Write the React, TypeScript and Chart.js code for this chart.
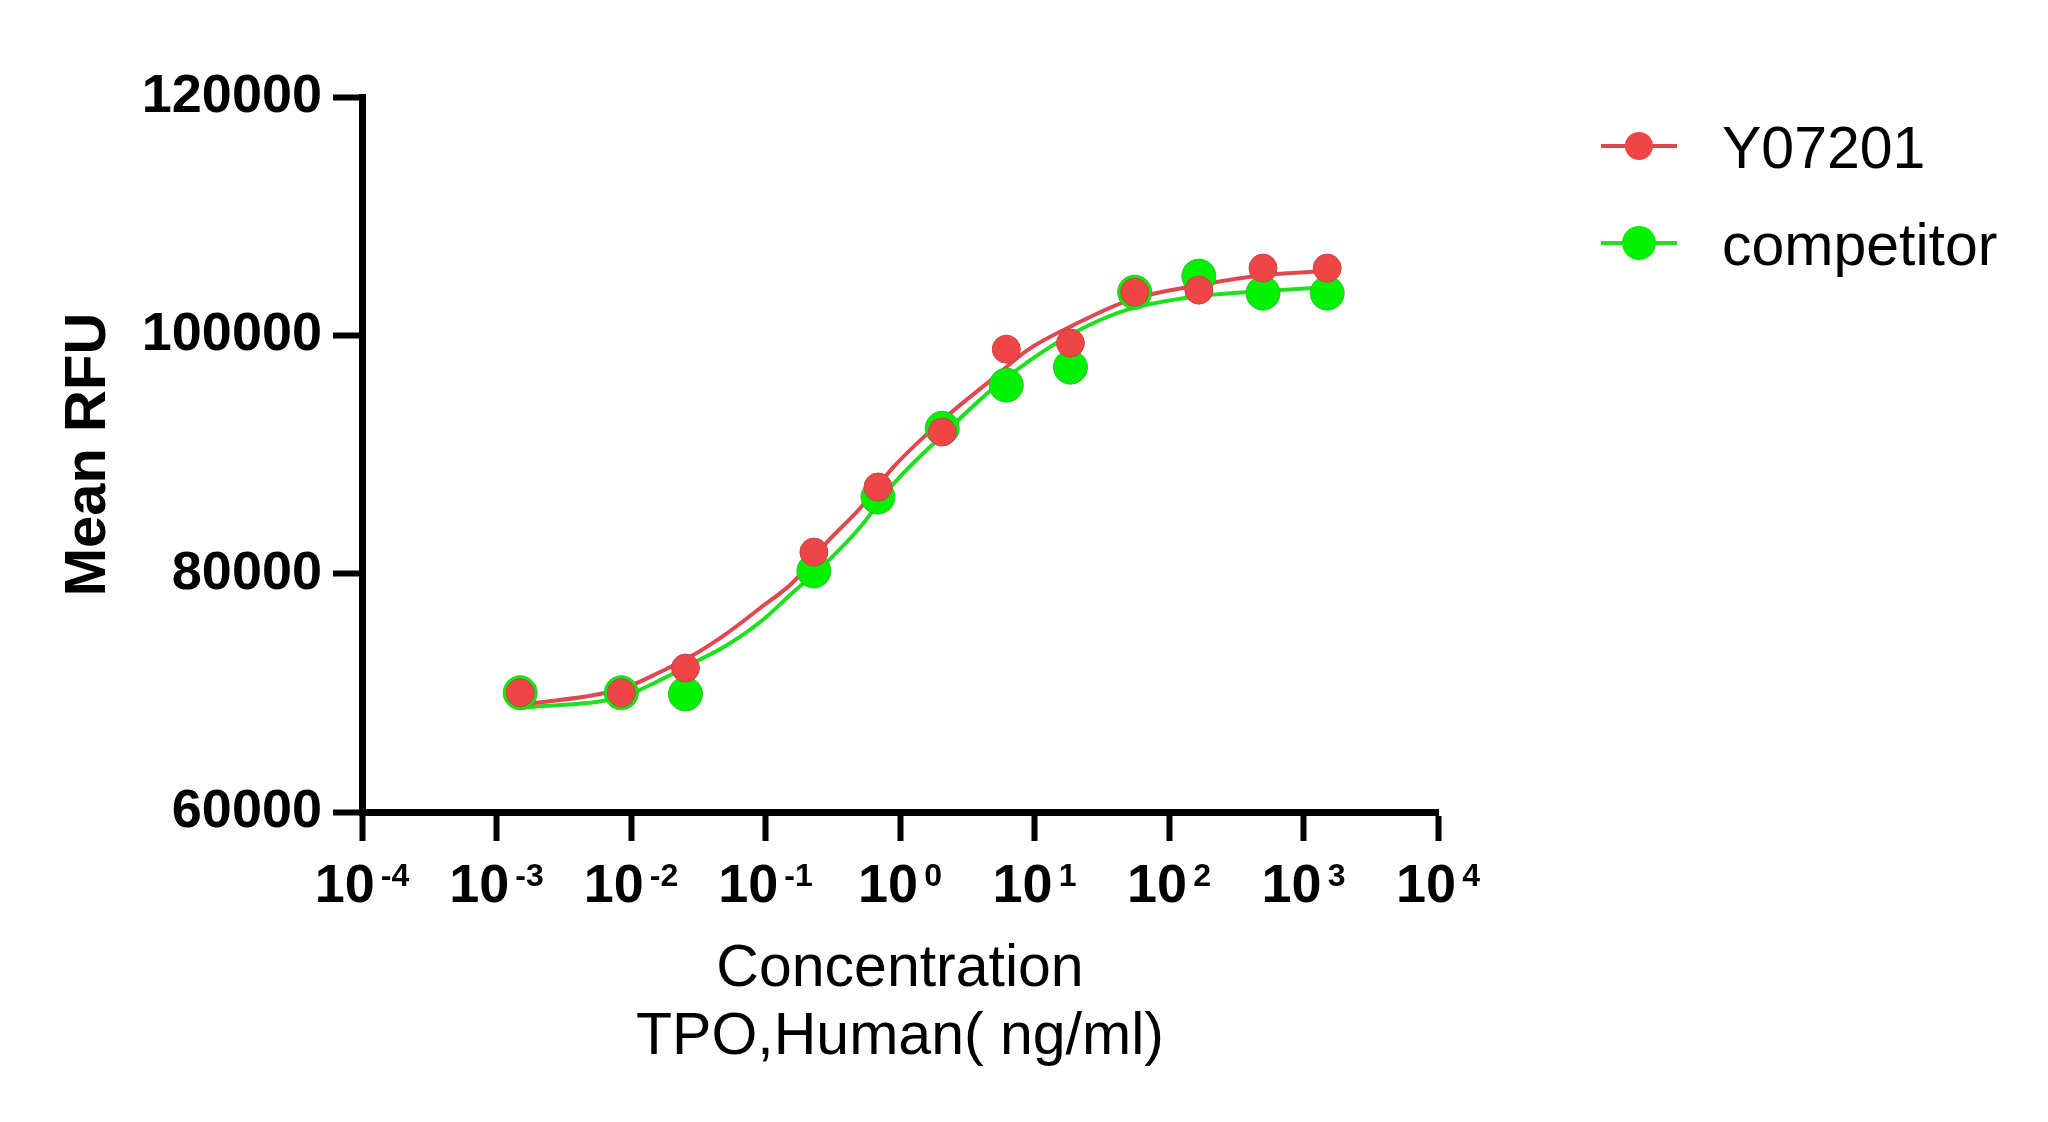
import Chart from "chart.js/auto";
import { useEffect, useRef } from "react";

// concentrations (ng/ml)
const concentrations = [0.0015, 0.00847, 0.0254, 0.229, 0.686, 2.06, 6.17, 18.5, 55.6, 166.7, 500, 1500];
const y07201 = [70000, 70000, 72080, 81810, 87270, 91880, 98840, 99350, 103620, 103790, 105640, 105640];
const competitor = [70000, 70000, 69900, 80220, 86430, 92200, 95820, 97330, 103620, 104970, 103540, 103540];

// fitted curves
const curveX = [0.0015, 0.00845, 0.0165, 0.029, 0.052, 0.0914, 0.161, 0.287, 0.507, 0.893, 2.07, 4.95, 8.87, 19.5, 49.2, 166, 497, 1489];
const y07201Curve = [68980, 70320, 71750, 73170, 75020, 77120, 79300, 82650, 85510, 88940, 92890, 96410, 98760, 100860, 102900, 104210, 105050, 105390];
const competitorCurve = [68730, 69650, 71070, 72500, 74010, 75940, 78460, 80980, 83910, 87520, 91630, 95570, 97750, 100190, 102150, 103290, 103710, 104040];

const decades = [1e-4, 1e-3, 1e-2, 1e-1, 1, 10, 100, 1000, 10000];
const seriesNames = ["Y07201", "competitor"];

const FONT = '"Liberation Sans", Arial, sans-serif';
const RED = "#F04545";
const RED_LINE = "#E0474F";
const GREEN = "#00F200";
const GREEN_LINE = "#1EE01E";

const toPoints = (xs: number[], ys: number[]) => xs.map((x, i) => ({ x, y: ys[i] }));

// x tick labels as 10 with a raised exponent
const xLabels = {
  id: "xLabels",
  afterDraw(chart: any) {
    const ctx = chart.ctx;
    const xs = chart.scales.x;
    ctx.save();
    ctx.fillStyle = "#000";
    ctx.textBaseline = "alphabetic";
    ctx.textAlign = "left";
    for (const t of xs.ticks) {
      const px = xs.getPixelForValue(t.value);
      const exp = String(Math.round(Math.log10(t.value)));
      ctx.font = `bold 54px ${FONT}`;
      const w1 = ctx.measureText("10").width;
      ctx.font = `bold 32px ${FONT}`;
      const w2 = ctx.measureText(exp).width;
      const gap = 6;
      const start = px - (w1 + gap + w2) / 2;
      ctx.font = `bold 54px ${FONT}`;
      ctx.fillText("10", start, 902);
      ctx.font = `bold 32px ${FONT}`;
      ctx.fillText(exp, start + w1 + gap, 886);
    }
    ctx.restore();
  },
};

const legendBox = {
  id: "legendBox",
  afterDraw(chart: any) {
    const ctx = chart.ctx;
    ctx.save();
    seriesNames.forEach((name, i) => {
      const pts = chart.data.datasets[i];
      const line = chart.data.datasets[i + 2];
      const y = 146 + i * 97;
      ctx.strokeStyle = line.borderColor;
      ctx.lineWidth = 4;
      ctx.beginPath();
      ctx.moveTo(1601, y);
      ctx.lineTo(1677, y);
      ctx.stroke();
      ctx.fillStyle = pts.pointBackgroundColor;
      ctx.beginPath();
      ctx.arc(1639, y, pts.pointRadius, 0, Math.PI * 2);
      ctx.fill();
      ctx.fillStyle = "#000";
      ctx.font = `59px ${FONT}`;
      ctx.textBaseline = "alphabetic";
      ctx.fillText(name, 1722, y + 22);
    });
    ctx.restore();
  },
};

export default function App() {
  const ref = useRef<HTMLCanvasElement>(null);

  useEffect(() => {
    document.body.style.margin = "0";
    document.body.style.overflow = "hidden";
    if (!ref.current) return;
    const chart = new Chart(ref.current, {
      type: "scatter",
      data: {
        datasets: [
          {
            label: seriesNames[0],
            data: toPoints(concentrations, y07201),
            showLine: false,
            pointRadius: 14,
            pointBackgroundColor: RED,
            pointBorderColor: "#C04848",
            pointBorderWidth: 1,
            order: 0,
          },
          {
            label: seriesNames[1],
            data: toPoints(concentrations, competitor),
            showLine: false,
            pointRadius: 17,
            pointBackgroundColor: GREEN,
            pointBorderColor: "#3CB83C",
            pointBorderWidth: 1,
            order: 1,
          },
          {
            label: seriesNames[0] + " fit",
            data: toPoints(curveX, y07201Curve),
            showLine: true,
            pointRadius: 0,
            borderColor: RED_LINE,
            borderWidth: 4,
            cubicInterpolationMode: "monotone",
            order: 2,
          },
          {
            label: seriesNames[1] + " fit",
            data: toPoints(curveX, competitorCurve),
            showLine: true,
            pointRadius: 0,
            borderColor: GREEN_LINE,
            borderWidth: 4,
            cubicInterpolationMode: "monotone",
            order: 3,
          },
        ],
      },
      options: {
        responsive: false,
        animation: false,
        devicePixelRatio: 1,
        events: [],
        layout: { padding: { left: 0, top: 97, right: 610, bottom: 0 } },
        plugins: {
          legend: { display: false },
          tooltip: { enabled: false },
        },
        scales: {
          x: {
            type: "logarithmic",
            min: 1e-4,
            max: 1e4,
            afterBuildTicks: (scale: any) => {
              scale.ticks = decades.map((v) => ({ value: v, major: true }));
            },
            afterFit: (scale: any) => {
              scale.height = 310;
            },
            ticks: { callback: () => "" },
            grid: {
              drawOnChartArea: false,
              tickLength: 29,
              tickWidth: 6,
              tickColor: "#000",
              color: "#000",
            },
            border: { width: 7, color: "#000" },
            title: {
              display: true,
              text: ["Concentration", "TPO,Human( ng/ml)"],
              color: "#000",
              font: { family: FONT, size: 59, lineHeight: 1.15 },
              padding: { top: 0, bottom: 50 },
            },
          },
          y: {
            min: 60000,
            max: 120000,
            ticks: {
              stepSize: 20000,
              padding: 11,
              color: "#000",
              font: { family: FONT, size: 54, weight: "bold" },
              callback: (v: any) => String(v),
            },
            afterFit: (scale: any) => {
              scale.width = 362;
            },
            grid: {
              drawOnChartArea: false,
              tickLength: 29,
              tickWidth: 6,
              tickColor: "#000",
              color: "#000",
            },
            border: { width: 7, color: "#000" },
            title: {
              display: true,
              text: "Mean RFU",
              color: "#000",
              font: { family: FONT, size: 58, weight: "bold", lineHeight: 1.2 },
              padding: { top: 54, bottom: 0 },
            },
          },
        },
      },
      plugins: [xLabels, legendBox],
    });

    return () => {
      chart.destroy();
    };
  }, []);

  return (
    <div style={{ width: 2048, height: 1122, background: "#fff" }}>
      <canvas ref={ref} width={2048} height={1122}></canvas>
    </div>
  );
}
